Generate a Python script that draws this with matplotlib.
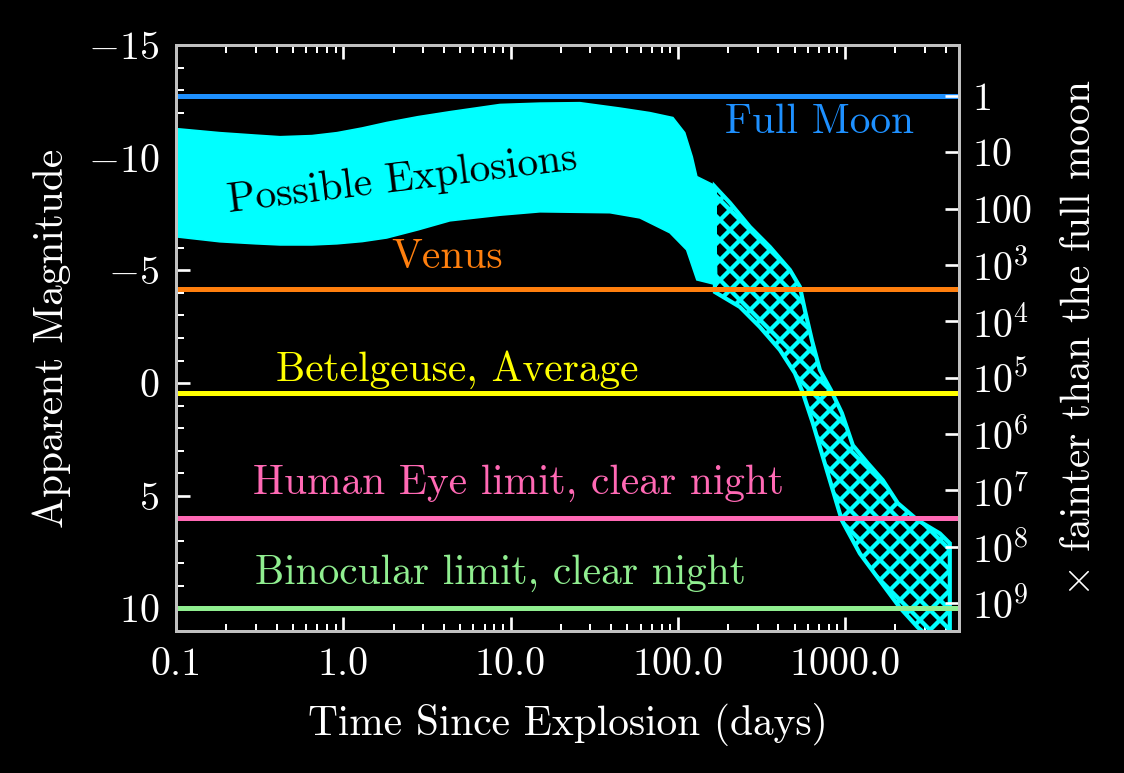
import numpy as np
import matplotlib
matplotlib.use('Agg')
import matplotlib.pyplot as plt
from matplotlib.ticker import MultipleLocator, LogLocator, NullFormatter

# ---------------- data ----------------
# Solid band: early-time possible explosions (days, apparent magnitude)
solid_upper_t = [0.1, 0.183, 0.3, 0.419, 0.65, 0.917, 1.3, 1.82, 2.8, 4.34, 8.65, 15.0, 26.0, 45.1, 68.0, 93.5, 110, 122, 130, 167]
solid_upper_m = [-11.29, -11.11, -11.0, -10.93, -10.98, -11.11, -11.32, -11.56, -11.82, -12.04, -12.36, -12.42, -12.44, -12.2, -12.0, -11.78, -11.11, -10.04, -9.16, -8.76]
solid_lower_t = [0.1, 0.183, 0.3, 0.419, 0.65, 0.917, 1.3, 1.82, 2.8, 4.34, 8.65, 15.0, 39.3, 59.3, 68.1, 89.7, 113, 130, 171]
solid_lower_m = [-6.49, -6.27, -6.18, -6.13, -6.13, -6.18, -6.28, -6.44, -6.8, -7.2, -7.45, -7.6, -7.56, -7.33, -7.11, -6.67, -5.91, -4.58, -4.36]

# Hatched band: late-time decline
hatch_upper_t = [166.7, 204.8, 269.8, 355.3, 467.9, 536.8, 575.1, 633.1, 707.0, 822.7, 957, 1113, 1369, 1682, 2068, 2724, 3686, 4229]
hatch_upper_m = [-8.71, -8.0, -6.93, -6.04, -5.02, -4.27, -3.24, -1.91, -0.58, 0.31, 1.33, 2.76, 3.56, 4.31, 5.33, 6.09, 6.67, 7.11]
hatch_lower_t = [166.7, 235.0, 309.5, 407.8, 501.2, 559.6, 642.1, 778.4, 957, 1226, 1614, 2126, 2724, 4229]
hatch_lower_m = [-4.04, -3.38, -2.49, -1.47, -0.44, 0.44, 1.78, 3.87, 6.09, 7.56, 8.76, 9.96, 10.84, 12.09]

# Reference brightness levels
ref_names = ['Full Moon', 'Venus', 'Betelgeuse, Average', 'Human Eye limit, clear night', 'Binocular limit, clear night']
ref_mags = [-12.74, -4.18, 0.42, 6.0, 10.0]
ref_colors = ['#1e90ff', '#ff7f0e', '#ffff00', '#ff69b4', '#90ee90']
ref_label_t = [706, 4.17, 4.78, 11.2, 8.65]
ref_label_m = [-11.56, -5.56, -0.58, 4.44, 8.44]

x_ticks = [0.1, 1, 10, 100, 1000]
x_ticklabels = ['0.1', '1.0', '10.0', '100.0', '1000.0']
y_ticks = [-15, -10, -5, 0, 5, 10]
moon_mag = -12.74
factor_steps = [0, 1, 2, 3, 4, 5, 6, 7, 8, 9]
factor_labels = ['1', '10', '100', r'$10^3$', r'$10^4$', r'$10^5$', r'$10^6$', r'$10^7$', r'$10^8$', r'$10^9$']

# ---------------- style ----------------
plt.rcParams['font.family'] = 'cmr10'
plt.rcParams['mathtext.fontset'] = 'cm'
plt.rcParams['axes.formatter.use_mathtext'] = True
plt.rcParams['hatch.linewidth'] = 2.6

FS = 24
FS_TXT = 24.8
spine_col = '#c0c0c0'

fig = plt.figure(figsize=(1124 / 120, 773 / 120), dpi=120, facecolor='black')
ax = fig.add_axes([176 / 1124, 1 - 631 / 773, (959 - 176) / 1124, (631 - 45) / 773])
ax.set_facecolor('black')

# bands
ax.fill(np.concatenate([solid_upper_t, solid_lower_t[::-1]]),
        np.concatenate([solid_upper_m, solid_lower_m[::-1]]),
        facecolor='cyan', edgecolor='cyan', linewidth=1.0, zorder=2)
ax.fill(np.concatenate([hatch_upper_t, hatch_lower_t[::-1]]),
        np.concatenate([hatch_upper_m, hatch_lower_m[::-1]]),
        facecolor='none', edgecolor='cyan', hatch='xx', linewidth=2.5, zorder=2)

# reference lines and labels
for name, m, c, lt, lm in zip(ref_names, ref_mags, ref_colors, ref_label_t, ref_label_m):
    ax.axhline(m, color=c, linewidth=3.0, zorder=3)
    ax.text(lt, lm, name, color=c, fontsize=FS_TXT, ha='center', va='center', zorder=4)

ax.text(2.24, -9.02, 'Possible Explosions', color='black', fontsize=FS_TXT,
        ha='center', va='center', rotation=7, zorder=4)

ax.set_xscale('log')
ax.set_xlim(0.1, 4800)
ax.set_ylim(11, -15)
ax.set_xticks(x_ticks)
ax.set_xticklabels(x_ticklabels)
ax.xaxis.set_minor_locator(LogLocator(base=10, subs=np.arange(2, 10)))
ax.xaxis.set_minor_formatter(NullFormatter())
ax.set_yticks(y_ticks)
ax.yaxis.set_minor_locator(MultipleLocator(1))

ax.tick_params(which='both', direction='in', colors='white', labelsize=FS, top=True, right=False)
ax.tick_params(which='major', length=8.5, width=1.6, pad=10)
ax.tick_params(which='minor', length=4.5, width=1.2)
for sp in ax.spines.values():
    sp.set_color(spine_col)
    sp.set_linewidth(1.8)

ax.set_xlabel('Time Since Explosion (days)', color='white', fontsize=FS_TXT, labelpad=12)
ax.set_ylabel('Apparent Magnitude', color='white', fontsize=FS_TXT, labelpad=10)

ax2 = ax.twinx()
ax2.set_ylim(ax.get_ylim())
ax2.set_yticks([moon_mag + 2.5 * k for k in factor_steps])
ax2.set_yticklabels(factor_labels)
ax2.yaxis.set_minor_locator(plt.NullLocator())
ax2.tick_params(which='major', direction='in', colors='white', labelsize=FS, length=8.5, width=1.6, pad=8)
for sp in ax2.spines.values():
    sp.set_color(spine_col)
    sp.set_linewidth(1.8)
ax2.set_ylabel(r'$\times$ fainter than the full moon', color='white', fontsize=FS_TXT, labelpad=17)

fig.savefig('out.png', dpi=120, facecolor='black')
